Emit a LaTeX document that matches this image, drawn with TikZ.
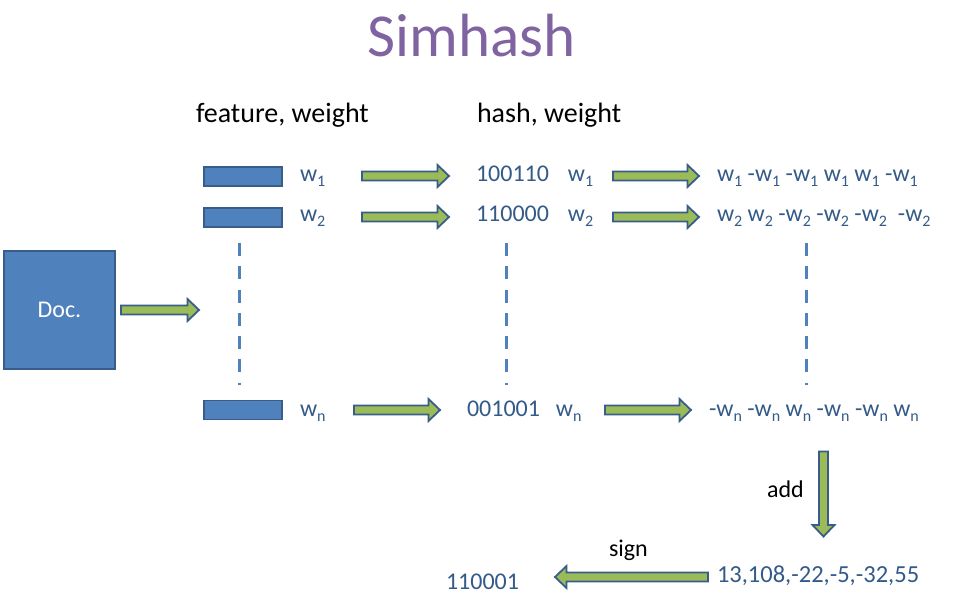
\documentclass[tikz,border=0pt]{standalone}
\usepackage{fontspec}
\setmainfont{Carlito}
\definecolor{accent}{HTML}{4F81BD}
\definecolor{edgeblue}{HTML}{385D8A}
\definecolor{agreen}{HTML}{9BBB59}
\definecolor{txtblue}{HTML}{335A88}
\definecolor{titlepurple}{HTML}{8064A2}
\newcommand\ws[1]{w\raisebox{-4.5pt}{\fontsize{16}{16}\selectfont #1}}
\begin{document}
\begin{tikzpicture}[x=1pt,y=-1pt,
  lbl/.style={anchor=base west, inner sep=0pt, outer sep=0pt},
  bluetxt/.style={lbl, text=txtblue, font=\fontsize{24}{28}\selectfont},
  blacktxt/.style={lbl, text=black, font=\fontsize{24}{28}\selectfont},
  featbox/.style={draw=edgeblue, fill=accent, line width=1.8pt, minimum width=78pt, minimum height=19pt, inner sep=0pt},
  arrowlook/.style={draw=edgeblue, fill=agreen, line width=1.8pt, line join=miter},
  blockarrow/.pic={
    \path[arrowlook] (-#1/2,-4.5) -- (#1/2-11.5,-4.5) -- (#1/2-11.5,-11) -- (#1/2,0)
      -- (#1/2-11.5,11) -- (#1/2-11.5,4.5) -- (-#1/2,4.5) -- cycle;
  },
  vdash/.style={draw=accent, line width=3pt, dash pattern=on 13pt off 10.3pt}
]
\useasboundingbox[fill=white] (0,0) rectangle (980,601);

% title and headers
\node[lbl, anchor=base, text=titlepurple, font=\fontsize{61}{70}\selectfont] (title) at (471.5,57) {Simhash};
\node[blacktxt, font=\fontsize{28}{32}\selectfont] (hfeat) at (196,123) {feature, weight};
\node[blacktxt, font=\fontsize{28}{32}\selectfont] (hhash) at (477,123) {hash, weight};

% document
\node[draw=edgeblue, fill=accent, line width=1.8pt, minimum width=111pt, minimum height=118pt, inner sep=0pt, text=white, font=\fontsize{24}{28}\selectfont] (doc) at (59.5,310) {Doc.};
\pic (adoc) at (160,310) {blockarrow=78};

% features
\node[featbox] (f1) at (243,176.5) {};
\node[featbox] (f2) at (243,217.5) {};
\node[featbox] (fn) at (243,410) {};
\node[bluetxt] (w1) at (300,182) {\ws{1}};
\node[bluetxt] (w2) at (300,222) {\ws{2}};
\node[bluetxt] (wn) at (300,417) {\ws{n}};

\pic (a1) at (405.5,176) {blockarrow=87};
\pic (a2) at (405.5,217) {blockarrow=87};
\pic (an) at (397,410) {blockarrow=86};

% hashes
\node[bluetxt] (h1) at (476,182) {100110\hspace{19pt}\ws{1}};
\node[bluetxt] (h2) at (476,222) {110000\hspace{19pt}\ws{2}};
\node[bluetxt] (hn) at (467,417) {001001\hspace{16pt}\ws{n}};

\pic (b1) at (656,176) {blockarrow=86};
\pic (b2) at (656,217) {blockarrow=86};
\pic (bn) at (648,410) {blockarrow=86};

% weighted vectors
\node[bluetxt] (v1) at (717,182) {\ws{1}~-\ws{1}~-\ws{1}~\ws{1}~\ws{1}~-\ws{1}};
\node[bluetxt] (v2) at (717,222) {\ws{2}~\ws{2}~-\ws{2}~-\ws{2}~-\ws{2}~~-\ws{2}};
\node[bluetxt] (vn) at (709,417) {-\ws{n}~-\ws{n}~\ws{n}~-\ws{n}~-\ws{n}~\ws{n}};

% dashed ellipsis lines
\coordinate (d1t) at (239,243); \coordinate (d1b) at (239,385);
\coordinate (d2t) at (506,243); \coordinate (d2b) at (506,385);
\coordinate (d3t) at (806,243); \coordinate (d3b) at (806,385);
\draw[vdash] (d1t) -- (d1b);
\draw[vdash] (d2t) -- (d2b);
\draw[vdash] (d3t) -- (d3b);

% add and sign
\pic[rotate=-90] (addarr) at (823.5,494) {blockarrow=85};
\node[blacktxt] (addlbl) at (767,497) {add};
\node[bluetxt, font=\fontsize{24.5}{28}\selectfont] (sum) at (717,582) {13,108,-22,-5,-32,55};
\pic[rotate=180] (signarr) at (631.5,577) {blockarrow=153};
\node[blacktxt] (signlbl) at (609,556) {sign};
\node[bluetxt] (result) at (446,589) {110001};
\end{tikzpicture}
\end{document}
